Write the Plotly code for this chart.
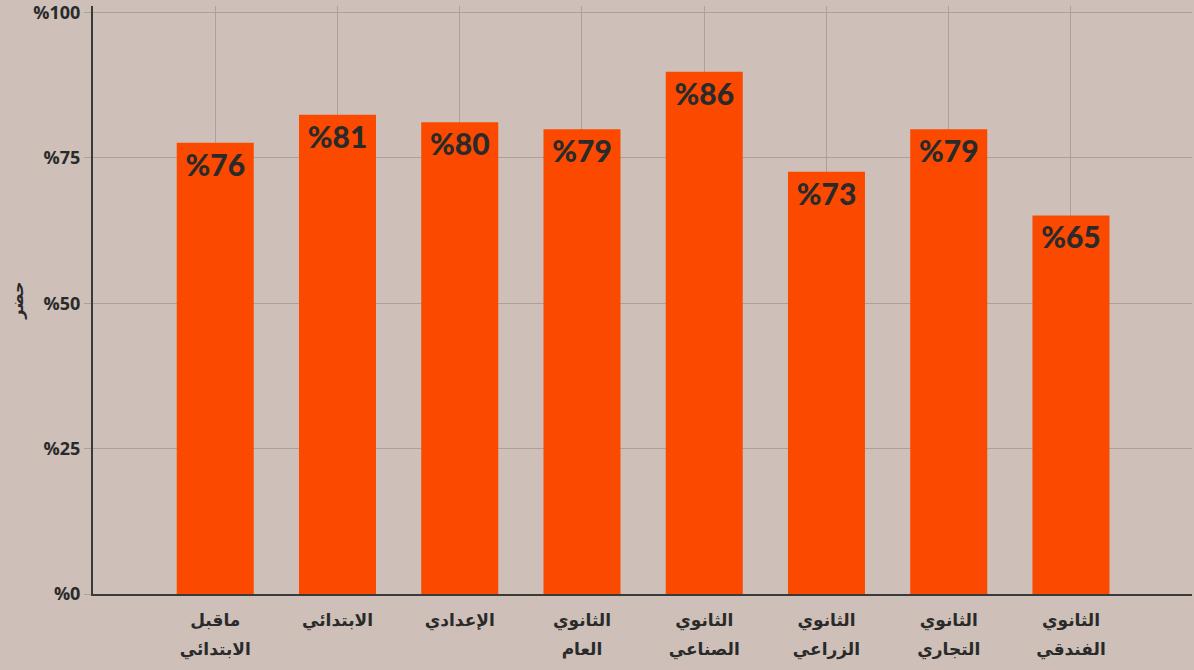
import plotly.graph_objects as go

categories = [["ماقبل", "الابتدائي"], ["الابتدائي"], ["الإعدادي"], ["الثانوي", "العام"],
              ["الثانوي", "الصناعي"], ["الثانوي", "الزراعي"], ["الثانوي", "التجاري"], ["الثانوي", "الفندقي"]]
values = [77.6, 82.4, 81.1, 79.9, 89.8, 72.6, 79.9, 65.1]
labels = ["%76", "%81", "%80", "%79", "%86", "%73", "%79", "%65"]
y_ticks = [0, 25, 50, 75, 100]
y_ticktext = ["%0", "%25", "%50", "%75", "%100"]

BG = "#cec0b8"
BAR = "#fb4a00"
GRID = "#ada09a"
DARK = "#2a2a2a"

x = list(range(len(categories)))
# wrap each line in a smaller span so the line spacing (set by the outer font size) is wider
ticktext = ["<br>".join('<span style="font-size:17px;font-weight:700">' + ln + "</span>" for ln in c)
            for c in categories]

fig = go.Figure(go.Bar(
    x=x, y=values, width=0.63,
    marker=dict(color=BAR, line=dict(width=0)),
    text=labels, textposition="inside", insidetextanchor="end",
    textangle=0, constraintext="none",
    textfont=dict(family="Lato, 'Noto Sans', sans-serif", size=30, color=DARK, weight=900),
    hoverinfo="skip",
))

fig.update_layout(
    width=1194, height=670,
    margin=dict(l=93, r=2, t=6, b=76),
    paper_bgcolor=BG, plot_bgcolor=BG,
    showlegend=False,
    font=dict(family="'Noto Sans', 'DejaVu Sans', sans-serif", color=DARK),
)
fig.update_xaxes(
    range=[-1, 7.99], tickvals=x, ticktext=ticktext,
    showgrid=True, gridcolor=GRID, gridwidth=1,
    showline=True, linecolor="#3a3a3a", linewidth=2,
    ticks="", tickfont=dict(size=22, color=DARK, weight="bold"),
    ticklabelstandoff=4,
    zeroline=False, automargin=False,
)
fig.update_yaxes(
    range=[0, 101.1], tickvals=y_ticks, ticktext=y_ticktext,
    showgrid=True, gridcolor=GRID, gridwidth=1,
    showline=True, linecolor="#3a3a3a", linewidth=2,
    ticks="outside", ticklen=7, tickcolor=GRID,
    ticklabeloverflow="allow",
    tickfont=dict(family="'Open Sans', 'Noto Sans', sans-serif", size=18, color=DARK, weight="bold"),
    zeroline=False, automargin=False,
    title=dict(text="حضر", font=dict(size=16, color=DARK, weight="bold"), standoff=6),
)

fig.write_html(
    "out.html",
    config={"displayModeBar": False},
    post_script="document.body.style.margin='0';document.body.style.background='" + BG + "';",
)
